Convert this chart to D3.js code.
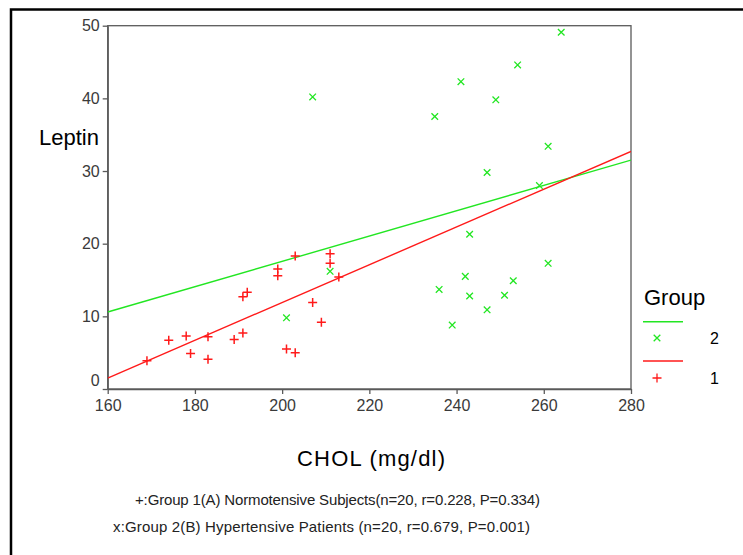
<!DOCTYPE html>
<html>
<head>
<meta charset="utf-8">
<script src="https://cdn.jsdelivr.net/npm/d3@7"></script>
<style>
  body { margin: 0; background: #fff; }
  svg { display: block; font-family: Arial, "Liberation Sans", sans-serif; }
</style>
</head>
<body>
<svg id="chart" width="743" height="555"></svg>
<script>
// Group 1 (A) normotensive subjects: CHOL, Leptin
const group1Chol   = [169, 174, 178, 179, 183, 183, 189, 191, 191, 192, 199, 199, 201, 203, 203, 207, 209, 211, 211, 213];
const group1Leptin = [3.9, 6.7, 7.3, 4.9, 7.2, 4.1, 6.8, 7.7, 12.7, 13.3, 16.5, 15.6, 5.5, 5.0, 18.3, 11.9, 9.2, 18.6, 17.3, 15.4];

// Group 2 (B) hypertensive patients: CHOL, Leptin
const group2Chol   = [201, 211, 207, 264, 254, 241, 249, 235, 261, 247, 259, 243, 261, 242, 253, 236, 243, 251, 247, 239];
const group2Leptin = [9.8, 16.2, 40.2, 49.1, 44.6, 42.3, 39.8, 37.5, 33.4, 29.8, 28.0, 21.3, 17.3, 15.5, 14.9, 13.7, 12.8, 12.9, 10.9, 8.8];

// fit lines: leptin at CHOL=160 and CHOL=280
const fitGroup1 = [1.5, 32.7];
const fitGroup2 = [10.6, 31.5];

const xTicks = [160, 180, 200, 220, 240, 260, 280];
const yTicks = [0, 10, 20, 30, 40, 50];

const footnotes = [
  "+:Group 1(A) Normotensive Subjects(n=20, r=0.228, P=0.334)",
  "x:Group 2(B) Hypertensive Patients (n=20, r=0.679, P=0.001)"
];

const GREEN = "#22e622";
const RED = "#ff1a1a";
const AXIS = "#5a5a5a";

const svg = d3.select("#chart");

// outer black frame (cropped on right/bottom)
svg.append("path")
  .attr("d", "M11,556 L11,9.5 L744,9.5")
  .attr("fill", "none")
  .attr("stroke", "#000")
  .attr("stroke-width", 2.5);

const x = d3.scaleLinear().domain([160, 280]).range([107.7, 631]);
const y = d3.scaleLinear().domain([0, 50]).range([389, 25.7]);

// plot frame
svg.append("rect")
  .attr("x", x(160)).attr("y", y(50))
  .attr("width", x(280) - x(160)).attr("height", y(0) - y(50))
  .attr("fill", "#fff")
  .attr("stroke", AXIS)
  .attr("stroke-width", 1.3);

const xAxis = svg.append("g")
  .attr("transform", `translate(0,${y(0)})`)
  .call(d3.axisBottom(x).tickValues(xTicks).tickSize(5).tickSizeOuter(0).tickPadding(6));

const yAxis = svg.append("g")
  .attr("transform", `translate(${x(160)},0)`)
  .call(d3.axisLeft(y).tickValues(yTicks).tickSize(5).tickSizeOuter(0).tickPadding(3));

[xAxis, yAxis].forEach(a => {
  a.selectAll("path, line").attr("stroke", AXIS).attr("stroke-width", 1.3);
  a.selectAll("text").attr("fill", "#3a3a3a").style("font-size", "16px").style("font-family", "Arial, 'Liberation Sans', sans-serif");
});
// SPSS lifts the 0 label above the x-axis
yAxis.selectAll(".tick").filter(d => d === 0).select("text").attr("dy", "-0.2em");

// clip for fit lines
svg.append("clipPath").attr("id", "plotclip")
  .append("rect")
  .attr("x", x(160)).attr("y", y(50))
  .attr("width", x(280) - x(160)).attr("height", y(0) - y(50));

const fits = [
  { vals: fitGroup2, color: GREEN },
  { vals: fitGroup1, color: RED }
];
svg.append("g").attr("clip-path", "url(#plotclip)")
  .selectAll("line")
  .data(fits)
  .join("line")
  .attr("x1", x(160)).attr("x2", x(280))
  .attr("y1", d => y(d.vals[0]))
  .attr("y2", d => y(d.vals[1]))
  .attr("stroke", d => d.color)
  .attr("stroke-width", 1.4);

// markers
const plusPath = "M-4.5,0 L4.5,0 M0,-4.5 L0,4.5";
const crossPath = "M-3.3,-3.3 L3.3,3.3 M-3.3,3.3 L3.3,-3.3";

svg.append("g").selectAll("path")
  .data(group2Chol.map((c, i) => [c, group2Leptin[i]]))
  .join("path")
  .attr("transform", d => `translate(${x(d[0])},${y(d[1])})`)
  .attr("d", crossPath)
  .attr("stroke", GREEN)
  .attr("stroke-width", 1.3)
  .attr("fill", "none");

svg.append("g").selectAll("path")
  .data(group1Chol.map((c, i) => [c, group1Leptin[i]]))
  .join("path")
  .attr("transform", d => `translate(${x(d[0])},${y(d[1])})`)
  .attr("d", plusPath)
  .attr("stroke", RED)
  .attr("stroke-width", 1.5)
  .attr("fill", "none");

// axis titles
svg.append("text")
  .attr("x", 39).attr("y", 145)
  .style("font-size", "22px")
  .attr("fill", "#000")
  .text("Leptin");

svg.append("text")
  .attr("x", 297).attr("y", 466)
  .attr("textLength", 148)
  .style("font-size", "22px")
  .attr("fill", "#000")
  .text("CHOL (mg/dl)");

// legend
const legend = svg.append("g");
legend.append("text")
  .attr("x", 644).attr("y", 305)
  .style("font-size", "22px")
  .attr("fill", "#000")
  .text("Group");

const legendItems = [
  { label: "2", color: GREEN, marker: crossPath, lineY: 321.7, markY: 338 },
  { label: "1", color: RED, marker: plusPath, lineY: 361, markY: 378 }
];
legendItems.forEach(it => {
  legend.append("line")
    .attr("x1", 643).attr("x2", 683)
    .attr("y1", it.lineY).attr("y2", it.lineY)
    .attr("stroke", it.color).attr("stroke-width", 1.4);
  legend.append("path")
    .attr("transform", `translate(657,${it.markY})`)
    .attr("d", it.marker)
    .attr("stroke", it.color).attr("stroke-width", 1.3).attr("fill", "none");
  legend.append("text")
    .attr("x", 710).attr("y", it.markY + 6)
    .style("font-size", "16px")
    .attr("fill", "#000")
    .text(it.label);
});

// footnotes
svg.append("g").selectAll("text")
  .data(footnotes)
  .join("text")
  .attr("x", (d, i) => i === 0 ? 135 : 113)
  .attr("y", (d, i) => 505 + i * 27)
  .attr("textLength", (d, i) => i === 0 ? 405 : 417)
  .style("font-size", "15px")
  .attr("fill", "#222")
  .text(d => d);
</script>
</body>
</html>
